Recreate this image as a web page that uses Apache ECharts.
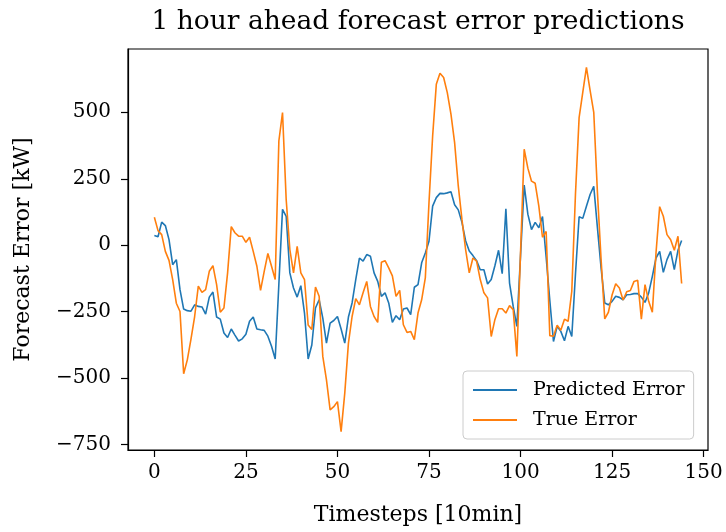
<!DOCTYPE html>
<html>
<head>
<meta charset="utf-8">
<script src="https://cdn.jsdelivr.net/npm/echarts@6/dist/echarts.min.js"></script>
<style>
  html, body { margin: 0; padding: 0; background: #fff; }
  #chart { width: 726px; height: 532px; }
</style>
</head>
<body>
<div id="chart"></div>
<script>
// ---- data ----
const predictedError = [
  37, 32, 87, 74, 21, -73, -54, -167, -240, -246,
  -248, -224, -230, -232, -259, -195, -176, -270, -278, -330,
  -347, -315, -338, -360, -352, -335, -286, -270, -315, -318,
  -320, -342, -380, -428, -147, 135, 109, -104, -161, -195,
  -152, -255, -428, -375, -236, -205, -274, -368, -293, -283,
  -268, -315, -368, -270, -217, -129, -48, -60, -35, -41,
  -104, -136, -192, -179, -217, -290, -265, -280, -240, -236,
  -261, -158, -148, -66, -29, 15, 147, 179, 195, 194,
  197, 201, 152, 133, 86, 17, -22, -39, -58, -92,
  -92, -146, -129, -77, -19, -107, 137, -142, -230, -305,
  -41, 226, 117, 59, 86, 66, 108, -45, -208, -362,
  -305, -324, -359, -305, -343, -110, 107, 101, 147, 191,
  222, 66, -85, -217, -224, -211, -192, -196, -205, -186,
  -185, -182, -182, -195, -215, -179, -117, -48, -23, -102,
  -54, -23, -92, -19, 18
];
const trueError = [
  105, 55, 40, -23, -57, -129, -218, -249, -483, -431,
  -353, -268, -154, -177, -167, -98, -77, -148, -252, -236,
  -104, 70, 47, 34, 34, 11, 30, -23, -79, -170,
  -98, -31, -79, -129, 392, 499, 172, -16, -104, -4,
  -104, -129, -300, -317, -157, -192, -418, -506, -619, -607,
  -588, -701, -556, -368, -268, -201, -224, -179, -136, -230,
  -268, -290, -64, -58, -85, -115, -192, -170, -299, -328,
  -324, -355, -255, -205, -123, 160, 411, 605, 647, 631,
  574, 493, 386, 223, 97, -16, -104, -48, -60, -129,
  -179, -198, -343, -280, -239, -239, -255, -227, -242, -418,
  -30, 361, 290, 241, 233, 147, 30, 52, -340, -342,
  -301, -320, -278, -286, -173, 191, 480, 575, 669, 582,
  500, 199, -53, -277, -252, -187, -145, -161, -206, -175,
  -170, -136, -132, -278, -148, -211, -252, -29, 145, 109,
  40, 21, -19, 34, -144
];
const xTicks = [0, 25, 50, 75, 100, 125, 150];
const yTicks = [-750, -500, -250, 0, 250, 500];
const seriesNames = ['Predicted Error', 'True Error'];

// ---- chart ----
const fontFam = 'DejaVu Serif';
const toPairs = arr => arr.map((v, i) => [i, v]);
const fmt = v => String(v).replace('-', '\u2212');

const chart = echarts.init(document.getElementById('chart'), null, { renderer: 'canvas' });
chart.setOption({
  animation: false,
  backgroundColor: '#ffffff',
  title: {
    text: '1 hour ahead forecast error predictions',
    left: 418, top: 9, textAlign: 'center', padding: 0,
    textStyle: { fontFamily: fontFam, fontSize: 26.5, fontWeight: 'normal', color: '#000' }
  },
  grid: {
    left: 128, top: 49, width: 580, height: 401,
    show: true, borderColor: '#000', borderWidth: 1.2, backgroundColor: 'transparent'
  },
  legend: {
    orient: 'vertical', left: 463, top: 371,
    data: seriesNames,
    icon: 'rect', itemWidth: 44, itemHeight: 2, itemGap: 8,
    padding: [8, 9, 8, 10],
    backgroundColor: 'rgba(255,255,255,0.8)', borderColor: '#cccccc', borderWidth: 1, borderRadius: 4,
    textStyle: { fontFamily: fontFam, fontSize: 19, color: '#000', lineHeight: 22, padding: [0, 0, 0, 11] }
  },
  xAxis: {
    type: 'value', min: -7.2, max: 151.2,
    name: 'Timesteps [10min]', nameLocation: 'middle', nameGap: 54,
    nameTextStyle: { fontFamily: fontFam, fontSize: 22, color: '#000' },
    axisLine: { show: true, onZero: false, lineStyle: { color: '#000', width: 1.2 } },
    axisTick: { show: true, inside: false, length: 7, lineStyle: { color: '#000', width: 1.2 }, customValues: xTicks },
    axisLabel: { fontFamily: fontFam, fontSize: 20, color: '#000', margin: 13, customValues: xTicks, formatter: fmt },
    splitLine: { show: false }
  },
  yAxis: {
    type: 'value', min: -770, max: 738,
    name: 'Forecast Error [kW]', nameLocation: 'middle', nameGap: 94,
    nameTextStyle: { fontFamily: fontFam, fontSize: 22, color: '#000' },
    axisLine: { show: true, onZero: false, lineStyle: { color: '#000', width: 1.2 } },
    axisTick: { show: true, inside: false, length: 7, lineStyle: { color: '#000', width: 1.2 }, customValues: yTicks },
    axisLabel: { fontFamily: fontFam, fontSize: 20, color: '#000', margin: 17, customValues: yTicks, formatter: fmt },
    splitLine: { show: false }
  },
  series: [
    {
      name: seriesNames[0], type: 'line', data: toPairs(predictedError),
      showSymbol: false, symbol: 'none', color: '#1f77b4',
      lineStyle: { color: '#1f77b4', width: 1.6 }, z: 2
    },
    {
      name: seriesNames[1], type: 'line', data: toPairs(trueError),
      showSymbol: false, symbol: 'none', color: '#ff7f0e',
      lineStyle: { color: '#ff7f0e', width: 1.6 }, z: 3
    }
  ]
});
</script>
</body>
</html>
